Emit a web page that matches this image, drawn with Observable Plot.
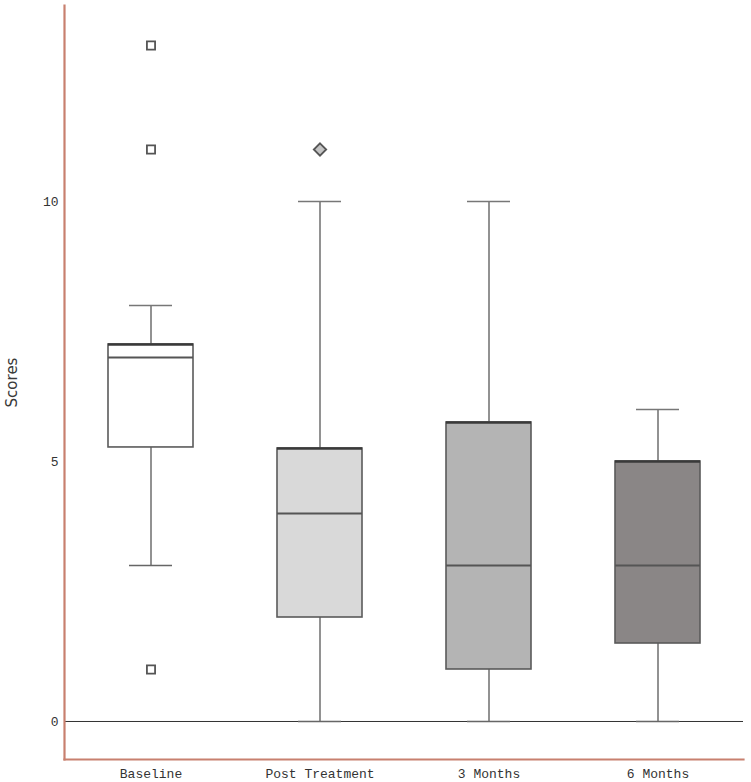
<!DOCTYPE html>
<html>
<head>
<meta charset="utf-8">
<script src="https://cdn.jsdelivr.net/npm/d3@7"></script>
<script src="https://cdn.jsdelivr.net/npm/@observablehq/plot@0.6"></script>
<style>
  html, body { margin: 0; padding: 0; background: #fff; }
  #chart svg { display: block; }
</style>
</head>
<body>
<div id="chart"></div>
<script>
// ---- data ----
const categories = ["Baseline", "Post Treatment", "3 Months", "6 Months"];
const q1 = [5.27, 2.0, 1.0, 1.5];
const median = [7.0, 4.0, 3.0, 3.0];
const q3 = [7.25, 5.25, 5.75, 5.0];
const whiskerLow = [3, 0, 0, 0];
const whiskerHigh = [8, 10, 10, 6];
const outlierGroup = ["Baseline", "Baseline", "Baseline", "Post Treatment"];
const outlierValue = [13, 11, 1, 11];
const boxFills = ["#ffffff", "#d9d9d9", "#b4b4b4", "#8a8686"];
const yTicks = [0, 5, 10];
const yLabel = "Scores";

const boxes = categories.map((c, i) => ({
  cat: c, q1: q1[i], med: median[i], q3: q3[i], lo: whiskerLow[i], hi: whiskerHigh[i], fill: boxFills[i]
}));
const outliers = outlierGroup.map((g, i) => ({cat: g, v: outlierValue[i]}));

const axisColor = "#c8806f";
const mono = "'Liberation Mono', 'DejaVu Sans Mono', monospace";

const chart = Plot.plot({
  width: 751,
  height: 782,
  marginLeft: 64,
  marginRight: 8,
  marginTop: 5,
  marginBottom: 23,
  style: {fontFamily: mono, fontSize: "13px", color: "#333", background: "#fff"},
  x: {domain: categories, paddingInner: 0.5, paddingOuter: 0.25, label: null},
  y: {domain: [-0.7308, 13.769], label: null},
  color: {type: "identity"},
  marks: [
    Plot.ruleY([0], {stroke: "#333", strokeWidth: 1}),
    // whiskers
    Plot.ruleX(boxes, {x: "cat", y1: "lo", y2: "q1", stroke: "#777", strokeWidth: 1.6}),
    Plot.ruleX(boxes, {x: "cat", y1: "q3", y2: "hi", stroke: "#777", strokeWidth: 1.6}),
    Plot.tickY(boxes, {x: "cat", y: "lo", stroke: "#666", strokeWidth: 1.6, insetLeft: 21, insetRight: 21}),
    Plot.tickY(boxes, {x: "cat", y: "hi", stroke: "#777", strokeWidth: 1.6, insetLeft: 21, insetRight: 21}),
    // boxes
    Plot.barY(boxes, {x: "cat", y1: "q1", y2: "q3", fill: "fill", stroke: "#5a5a5a", strokeWidth: 1.6}),
    Plot.tickY(boxes, {x: "cat", y: "q3", stroke: "#3a3a3a", strokeWidth: 2.6}),
    Plot.tickY(boxes, {x: "cat", y: "med", stroke: "#555", strokeWidth: 1.8}),
    // outliers
    Plot.dot(outliers.filter(d => d.cat === "Baseline"), {x: "cat", y: "v", symbol: "square", r: 4.6, fill: "#fff", stroke: "#555", strokeWidth: 1.8}),
    Plot.dot(outliers.filter(d => d.cat !== "Baseline"), {x: "cat", y: "v", symbol: "diamond2", r: 5.6, fill: "#c4c4c4", stroke: "#555", strokeWidth: 1.8}),
    // axes
    Plot.axisY(yTicks, {tickSize: 0, tickPadding: 6, tickFormat: "d", label: null, fontSize: 13}),
    Plot.axisX({tickSize: 0, tickPadding: 9, label: null, fontSize: 13}),
    Plot.text([yLabel], {frameAnchor: "left", dx: -52, rotate: -90, textAnchor: "middle", lineAnchor: "middle",
      fontFamily: "'DejaVu Sans', sans-serif", fontSize: 15, fill: "#3a3a3a"}),
    Plot.frame({anchor: "left", stroke: axisColor, strokeWidth: 2.2}),
    Plot.frame({anchor: "bottom", stroke: axisColor, strokeWidth: 2.2})
  ]
});
document.getElementById("chart").appendChild(chart);
</script>
</body>
</html>
